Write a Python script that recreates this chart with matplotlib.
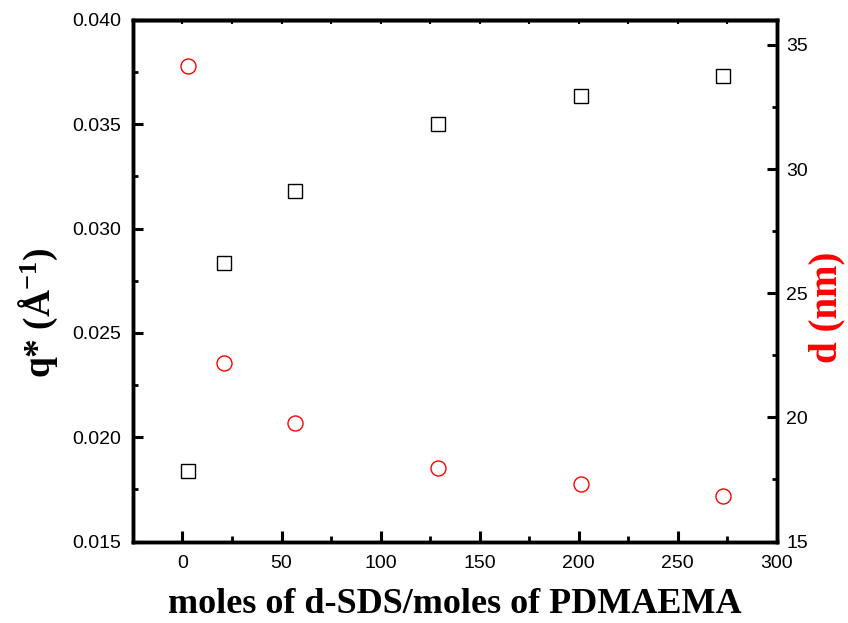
import matplotlib
matplotlib.use("Agg")
import matplotlib.pyplot as plt
from matplotlib.ticker import MultipleLocator

# data
ratio = [3, 21, 57, 129, 201, 273]
q_star = [0.0184, 0.02835, 0.0318, 0.0350, 0.03634, 0.0373]
d_nm = [34.15, 22.17, 19.76, 17.95, 17.30, 16.83]

x_ticks = [0, 50, 100, 150, 200, 250, 300]
q_ticks = [0.015, 0.020, 0.025, 0.030, 0.035, 0.040]
d_ticks = [15, 20, 25, 30, 35]

plt.rcParams['font.family'] = ['Liberation Sans', 'DejaVu Sans']
plt.rcParams['mathtext.fontset'] = 'custom'
plt.rcParams['mathtext.rm'] = 'Liberation Serif:bold'
plt.rcParams['mathtext.bf'] = 'Liberation Serif:bold'
plt.rcParams['mathtext.default'] = 'bf'


def main():
    fig = plt.figure(figsize=(8.48, 6.23), dpi=100)
    ax = fig.add_axes([0.1568, 0.1308, 0.9160 - 0.1568, 0.9679 - 0.1308])
    ax2 = ax.twinx()

    ax.plot(ratio, q_star, linestyle='none', marker='s', markersize=9.6,
            markerfacecolor='none', markeredgecolor='black', markeredgewidth=1.0)
    ax2.plot(ratio, d_nm, linestyle='none', marker='o', markersize=10.8,
             markerfacecolor='none', markeredgecolor='red', markeredgewidth=1.0)

    ax.set_xlim(-25, 300)
    ax.set_ylim(0.015, 0.040)
    ax2.set_ylim(15, 36)

    ax.set_xticks(x_ticks)
    ax.set_yticks(q_ticks)
    ax.set_yticklabels(['%.3f' % v for v in q_ticks])
    ax2.set_yticks(d_ticks)
    ax.xaxis.set_minor_locator(MultipleLocator(25))
    ax.yaxis.set_minor_locator(MultipleLocator(0.0025))
    ax2.yaxis.set_minor_locator(MultipleLocator(2.5))

    # bottom axis
    ax.tick_params(axis='x', which='major', direction='in', length=8, width=2.2,
                   labelsize=14, pad=10)
    ax.tick_params(axis='x', which='minor', direction='in', length=4, width=2.0)
    # left axis
    ax.tick_params(axis='y', which='major', direction='in', length=7, width=2.2,
                   labelsize=14, pad=8.5)
    ax.tick_params(axis='y', which='minor', direction='in', length=3.6, width=2.0)
    # right axis
    ax2.tick_params(axis='y', which='major', direction='in', length=7, width=2.2,
                    labelsize=14, pad=7)
    ax2.tick_params(axis='y', which='minor', direction='in', length=3.6, width=2.0)

    # small ticks along the top spine
    top = ax.secondary_xaxis('top')
    top.set_xticks(x_ticks)
    top.xaxis.set_minor_locator(MultipleLocator(25))
    top.tick_params(axis='x', which='both', direction='in', length=3, width=1.5,
                    labeltop=False)

    for a in (ax, ax2):
        for s in a.spines.values():
            s.set_linewidth(2.5)
    top.spines['top'].set_linewidth(2.5)

    ax.set_xlabel('moles of d-SDS/moles of PDMAEMA', family='Liberation Serif',
                  fontweight='bold', fontsize=26, labelpad=11)
    ax.set_ylabel(r'q* (Å$^{-1}$)', family='Liberation Serif',
                  fontweight='bold', fontsize=27)
    ax.yaxis.set_label_coords(-0.113, 0.438)
    ax2.set_ylabel('d (nm)', family='Liberation Serif', fontweight='bold',
                   fontsize=28, color='red', rotation=90)
    ax2.yaxis.set_label_coords(1.049, 0.45)

    fig.savefig('out.png', dpi=100)


if __name__ == '__main__':
    main()
